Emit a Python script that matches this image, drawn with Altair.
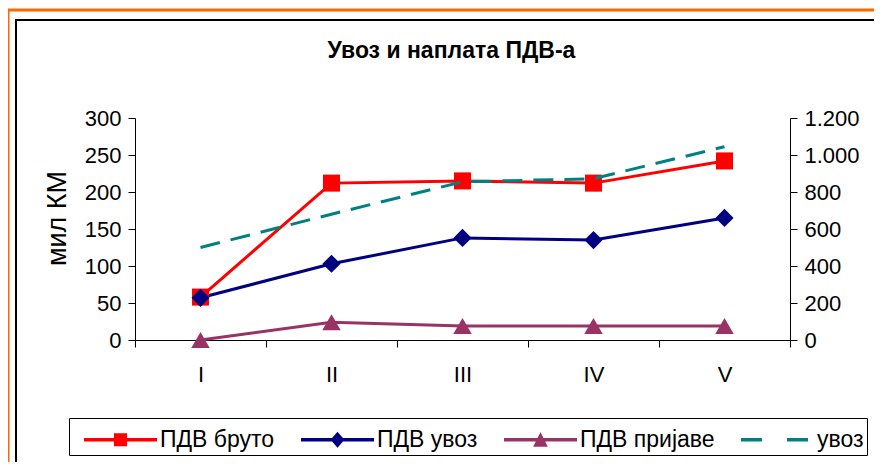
import altair as alt
import pandas as pd

months = ["I", "II", "III", "IV", "V"]
pdv_bruto = [58, 212, 215, 212, 242]
pdv_uvoz = [57, 103, 138, 135, 165]
pdv_prijave = [0, 24, 19, 19, 19]
uvoz = [500, 680, 855, 872, 1045]

series_names = ["ПДВ бруто", "ПДВ увоз", "ПДВ пријаве", "увоз"]
series_colors = ["#FF0000", "#000080", "#993366", "#008080"]
marker_shapes = ["square", "diamond", "triangle-up"]
marker_sizes = [290, 330, 340]
left_ticks = [0, 50, 100, 150, 200, 250, 300]
right_ticks = [0, 200, 400, 600, 800, 1000, 1200]

FONT = "Liberation Sans"

left_df = pd.DataFrame({
    "month": months * 3,
    "series": [series_names[0]] * 5 + [series_names[1]] * 5 + [series_names[2]] * 5,
    "value": pdv_bruto + pdv_uvoz + pdv_prijave,
})
right_df = pd.DataFrame({"month": months, "series": [series_names[3]] * 5, "value": uvoz})
legend_df = pd.DataFrame({"series": series_names})

legend_paths = [
    "M-2,-0.09H2V0.09H-2Z M-0.36,-0.36H0.36V0.36H-0.36Z",
    "M-2,-0.09H2V0.09H-2Z M0,-0.44L0.38,0L0,0.44L-0.38,0Z",
    "M-2,-0.09H2V0.09H-2Z M0,-0.42L0.4,0.38H-0.4Z",
    "M-2,-0.1H-0.85V0.1H-2Z M0.52,-0.1H1.67V0.1H0.52Z",
]
legend_cfg = alt.Legend(
    title=None, orient="none", legendX=-66, legendY=300, direction="horizontal",
    strokeColor="black", fillColor="white", padding=3,
    labelFontSize=23, labelFont=FONT, labelColor="black", labelLimit=400,
    symbolSize=1332, symbolOffset=30, labelOffset=21, columnPadding=14,
    symbolStrokeWidth=0,
)
color_enc = alt.Color("series:N", scale=alt.Scale(domain=series_names, range=series_colors),
                      legend=legend_cfg)

x_enc = alt.X(
    "month:N", sort=months,
    scale=alt.Scale(type="band", domain=months, paddingInner=0, paddingOuter=0),
    axis=alt.Axis(title=None, tickBand="extent", labelAngle=0, labelFontSize=22,
                  labelFont=FONT, labelPadding=17, tickSize=7, domainColor="black",
                  tickColor="black", labelColor="black", grid=False),
)
y_left = alt.Y(
    "value:Q", scale=alt.Scale(domain=[0, 300], nice=False),
    axis=alt.Axis(values=left_ticks, title="мил КМ", titleFontSize=27, titleFont=FONT,
                  titleFontWeight="normal", titleColor="black", titlePadding=13,
                  titleY=100,
                  labelFontSize=22, labelFont=FONT, labelColor="black", labelPadding=7,
                  tickSize=7, domainColor="black", tickColor="black", grid=False),
)
y_right = alt.Y(
    "value:Q", scale=alt.Scale(domain=[0, 1200], nice=False),
    axis=alt.Axis(orient="right", values=right_ticks, title=None,
                  labelExpr="replace(format(datum.value, ','), ',', '.')",
                  labelFontSize=22, labelFont=FONT, labelColor="black", labelPadding=7,
                  tickSize=7, domainColor="black", tickColor="black", grid=False),
)

base_left = alt.Chart(left_df)
lines_left = base_left.mark_line(strokeWidth=3).encode(
    x=x_enc, y=y_left, color=color_enc, detail="series:N",
)
point_layers = []
for name, shp, sz in zip(series_names[:3], marker_shapes, marker_sizes):
    point_layers.append(
        base_left.transform_filter(alt.datum.series == name)
        .mark_point(filled=True, opacity=1, shape=shp, size=sz)
        .encode(x=x_enc, y=y_left, color=color_enc)
    )
left_layer = alt.layer(lines_left, *point_layers)

right_layer = alt.Chart(right_df).mark_line(strokeWidth=3, strokeDash=[20, 11]).encode(
    x=x_enc, y=y_right, color=color_enc,
)

# legend-only layer (no marks drawn): supplies line+marker legend symbols
legend_layer = alt.Chart(legend_df).transform_filter("false").mark_point(
    filled=True, opacity=1, size=1332
).encode(
    color=color_enc,
    shape=alt.Shape("series:N", scale=alt.Scale(domain=series_names, range=legend_paths),
                    legend=legend_cfg),
)

frame_df = pd.DataFrame({"k": [0]})
orange_frame = alt.Chart(frame_df).mark_rect(fillOpacity=0, stroke="#FF6600", strokeWidth=3).encode(
    x=alt.value(-127), x2=alt.value(900), y=alt.value(-108), y2=alt.value(400)
)
black_frame = alt.Chart(frame_df).mark_rect(fillOpacity=0, stroke="black", strokeWidth=2).encode(
    x=alt.value(-119), x2=alt.value(900), y=alt.value(-98), y2=alt.value(349)
)
bottom_rule = alt.Chart(frame_df).mark_rule(stroke="#383838", strokeWidth=3).encode(
    x=alt.value(-119), x2=alt.value(900), y=alt.value(350)
)

chart = alt.layer(
    orange_frame, black_frame, bottom_rule, left_layer, right_layer, legend_layer
).resolve_scale(y="independent").properties(
    width=655, height=222,
    autosize=alt.AutoSizeParams(type="none"),
    padding={"left": 127, "top": 110, "right": 84, "bottom": 122},
    title=alt.TitleParams("Увоз и наплата ПДВ-а", font=FONT, fontSize=23, fontWeight="bold",
                          color="black", anchor="middle", frame="group", dx=-11, offset=-54),
    background="white",
).configure_view(strokeWidth=0)

chart.save("out.html", embed_options={"renderer": "svg", "actions": False})
